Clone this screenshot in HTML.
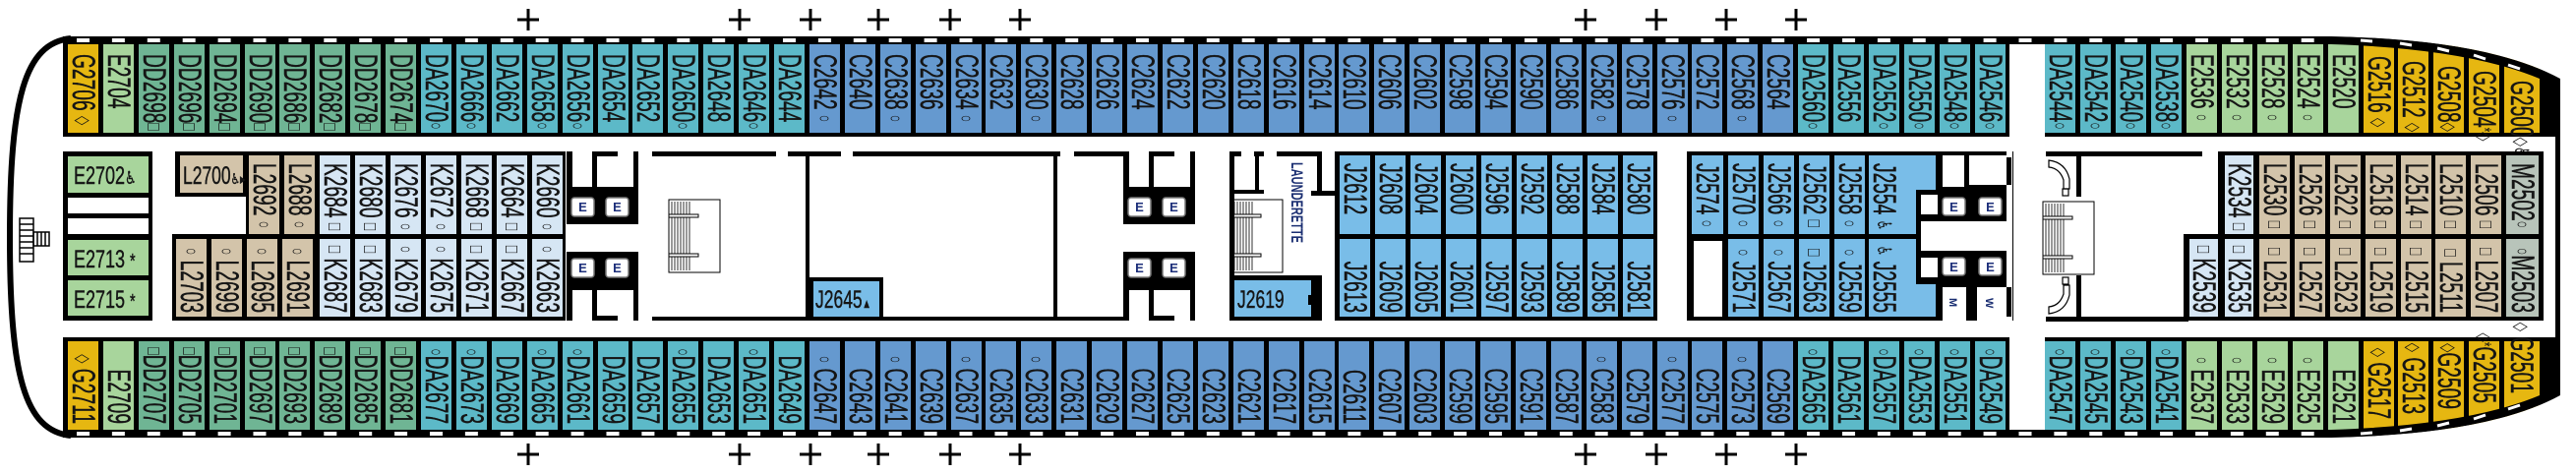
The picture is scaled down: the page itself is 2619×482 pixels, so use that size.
<!DOCTYPE html>
<html><head><meta charset="utf-8"><style>
html,body{margin:0;padding:0;background:#fff;width:2619px;height:482px;overflow:hidden}
svg{display:block}
.v{font-family:"Liberation Sans","DejaVu Sans",sans-serif;font-size:32px;fill:#151515;stroke:#151515;stroke-width:0.5}
.v tspan[font-size="16"]{font-size:20px;stroke-width:0}
.b{text-anchor:end}
.h{font-family:"Liberation Sans","DejaVu Sans",sans-serif;font-size:25px;fill:#151515;stroke:#151515;stroke-width:0.4}
.g{fill:#E6B711}.e{fill:#A8D59C}.dd{fill:#6FB594}.da{fill:#5CB9C8}.c{fill:#6599CF}.j{fill:#79BDE8}.k{fill:#D6E6F4}.l{fill:#D3C4AA}.m{fill:#B8C4BA}
.eb{fill:#fff;stroke:#777;stroke-width:1.5}
.et{font-family:"Liberation Sans",sans-serif;font-size:13px;font-weight:bold;fill:#1d2f7a;text-anchor:middle}
</style></head><body>
<svg width="2619" height="482" viewBox="0 0 2619 482" xmlns="http://www.w3.org/2000/svg">
<defs>
<pattern id="win" x="69" y="0" width="35.9" height="482" patternUnits="userSpaceOnUse">
<rect x="9" y="39" width="13" height="4" fill="#fff"/><rect x="9" y="439" width="13" height="4" fill="#fff"/>
</pattern>
<g id="stair">
<rect x="0" y="0" width="52" height="74" fill="#fff" stroke="#000" stroke-width="1"/>
<path d="M3 2v70M6 2v70M9 2v70M12 2v70M15 2v70M18 2v70M21 2v70" stroke="#000" stroke-width="0.8"/>
<rect x="0" y="15" width="30" height="3" fill="#fff" stroke="#000" stroke-width="1"/>
<rect x="0" y="55" width="30" height="3" fill="#fff" stroke="#000" stroke-width="1"/>
</g>
<g id="elev">
<rect x="0" y="0" width="6" height="42" fill="#000"/>
<rect x="26" y="0" width="5" height="38" fill="#000"/>
<rect x="30" y="0" width="22" height="5" fill="#000"/>
<rect x="68" y="0" width="5" height="38" fill="#000"/>
<rect x="0" y="36" width="73" height="5" fill="#000"/>
<rect x="0" y="40" width="73" height="34" fill="#000"/>
<rect x="5" y="47" width="23" height="19" rx="3" class="eb"/><text x="16.5" y="61" class="et">E</text>
<rect x="40" y="47" width="23" height="19" rx="3" class="eb"/><text x="51.5" y="61" class="et">E</text>
<rect x="0" y="102" width="73" height="34" fill="#000"/>
<rect x="5" y="109" width="23" height="19" rx="3" class="eb"/><text x="16.5" y="123" class="et">E</text>
<rect x="40" y="109" width="23" height="19" rx="3" class="eb"/><text x="51.5" y="123" class="et">E</text>
<rect x="0" y="136" width="73" height="5" fill="#000"/>
<rect x="0" y="136" width="6" height="36" fill="#000"/>
<rect x="26" y="136" width="5" height="36" fill="#000"/>
<rect x="68" y="136" width="5" height="36" fill="#000"/>
<rect x="30" y="167" width="22" height="5" fill="#000"/>
</g>
</defs>

<!-- plus signs -->
<g stroke="#000" stroke-width="3">
<path d="M526 20h22M537 9v22M741 20h22M752 9v22M813 20h22M824 9v22M882 20h22M893 9v22M955 20h22M966 9v22M1026 20h22M1037 9v22M1601 20h22M1612 9v22M1673 20h22M1684 9v22M1744 20h22M1755 9v22M1815 20h22M1826 9v22"/>
<path d="M526 462h22M537 451v22M741 462h22M752 451v22M813 462h22M824 451v22M882 462h22M893 451v22M955 462h22M966 451v22M1026 462h22M1037 451v22M1601 462h22M1612 451v22M1673 462h22M1684 451v22M1744 462h22M1755 451v22M1815 462h22M1826 451v22"/>
</g>

<!-- stern -->
<path d="M72 39 C25 44 10 100 10 241 C10 382 25 438 72 443" fill="none" stroke="#000" stroke-width="6"/>
<g fill="none" stroke="#000" stroke-width="1.5">
<rect x="20" y="222" width="14" height="44"/><path d="M20 228h14M20 234h14M20 240h14M20 246h14M20 252h14M20 258h14"/>
<rect x="34" y="236" width="16" height="14"/><path d="M38 236v14M42 236v14M46 236v14"/>
</g>

<!-- top/bottom black bands -->
<rect x="64" y="37" width="2306" height="102" fill="#000"/>
<rect x="64" y="343" width="2306" height="102" fill="#000"/>
<path d="M2370 37 Q2530 40 2603 80 L2603 139 L2370 139Z" fill="#000"/>
<path d="M2370 445 Q2530 442 2603 402 L2603 343 L2370 343Z" fill="#000"/>
<rect x="64" y="37" width="2306" height="8" fill="url(#win)"/>
<rect x="64" y="437" width="2306" height="8" fill="url(#win)"/>
<rect x="2043" y="45" width="36" height="94" fill="#fff"/>
<rect x="2043" y="343" width="36" height="94" fill="#fff"/>
<rect x="2598" y="80" width="5" height="322" fill="#000"/>

<!-- TOP ROW -->
<g>
<rect class="g" x="69" y="45" width="31" height="90"/><rect class="e" x="105" y="45" width="31" height="90"/>
<rect class="dd" x="141" y="45" width="31" height="90"/><rect class="dd" x="177" y="45" width="31" height="90"/><rect class="dd" x="213" y="45" width="31" height="90"/><rect class="dd" x="249" y="45" width="31" height="90"/><rect class="dd" x="284" y="45" width="31" height="90"/><rect class="dd" x="320" y="45" width="31" height="90"/><rect class="dd" x="356" y="45" width="31" height="90"/><rect class="dd" x="392" y="45" width="31" height="90"/>
<rect class="da" x="428" y="45" width="31" height="90"/><rect class="da" x="464" y="45" width="31" height="90"/><rect class="da" x="500" y="45" width="31" height="90"/><rect class="da" x="536" y="45" width="31" height="90"/><rect class="da" x="572" y="45" width="31" height="90"/><rect class="da" x="608" y="45" width="31" height="90"/><rect class="da" x="643" y="45" width="31" height="90"/><rect class="da" x="679" y="45" width="31" height="90"/><rect class="da" x="715" y="45" width="31" height="90"/><rect class="da" x="751" y="45" width="31" height="90"/><rect class="da" x="787" y="45" width="31" height="90"/>
<rect class="c" x="823" y="45" width="31" height="90"/><rect class="c" x="859" y="45" width="31" height="90"/><rect class="c" x="895" y="45" width="31" height="90"/><rect class="c" x="931" y="45" width="31" height="90"/><rect class="c" x="967" y="45" width="31" height="90"/><rect class="c" x="1002" y="45" width="31" height="90"/><rect class="c" x="1038" y="45" width="31" height="90"/><rect class="c" x="1074" y="45" width="31" height="90"/><rect class="c" x="1110" y="45" width="31" height="90"/><rect class="c" x="1146" y="45" width="31" height="90"/><rect class="c" x="1182" y="45" width="31" height="90"/><rect class="c" x="1218" y="45" width="31" height="90"/><rect class="c" x="1254" y="45" width="31" height="90"/><rect class="c" x="1290" y="45" width="31" height="90"/><rect class="c" x="1326" y="45" width="31" height="90"/><rect class="c" x="1361" y="45" width="31" height="90"/><rect class="c" x="1397" y="45" width="31" height="90"/><rect class="c" x="1433" y="45" width="31" height="90"/><rect class="c" x="1469" y="45" width="31" height="90"/><rect class="c" x="1505" y="45" width="31" height="90"/><rect class="c" x="1541" y="45" width="31" height="90"/><rect class="c" x="1577" y="45" width="31" height="90"/><rect class="c" x="1613" y="45" width="31" height="90"/><rect class="c" x="1649" y="45" width="31" height="90"/><rect class="c" x="1685" y="45" width="31" height="90"/><rect class="c" x="1720" y="45" width="31" height="90"/><rect class="c" x="1756" y="45" width="31" height="90"/><rect class="c" x="1792" y="45" width="31" height="90"/>
<rect class="da" x="1828" y="45" width="31" height="90"/><rect class="da" x="1864" y="45" width="31" height="90"/><rect class="da" x="1900" y="45" width="31" height="90"/><rect class="da" x="1936" y="45" width="31" height="90"/><rect class="da" x="1972" y="45" width="31" height="90"/><rect class="da" x="2008" y="45" width="31" height="90"/>
<rect class="da" x="2079" y="45" width="31" height="90"/><rect class="da" x="2115" y="45" width="31" height="90"/><rect class="da" x="2151" y="45" width="31" height="90"/><rect class="da" x="2187" y="45" width="31" height="90"/>
<rect class="e" x="2223" y="45" width="31" height="90"/><rect class="e" x="2259" y="45" width="31" height="90"/><rect class="e" x="2295" y="45" width="31" height="90"/><rect class="e" x="2331" y="45" width="31" height="90"/><rect class="e" x="2367" y="45" width="31" height="90"/>
<rect class="g" x="2403" y="45" width="31" height="90"/><rect class="g" x="2438" y="45" width="31" height="90"/><rect class="g" x="2474" y="45" width="31" height="90"/><rect class="g" x="2510" y="45" width="31" height="90"/><rect class="g" x="2546" y="45" width="36" height="90"/>
</g>

<!-- BOTTOM ROW -->
<g>
<rect class="g" x="69" y="347" width="31" height="90"/><rect class="e" x="105" y="347" width="31" height="90"/>
<rect class="dd" x="141" y="347" width="31" height="90"/><rect class="dd" x="177" y="347" width="31" height="90"/><rect class="dd" x="213" y="347" width="31" height="90"/><rect class="dd" x="249" y="347" width="31" height="90"/><rect class="dd" x="284" y="347" width="31" height="90"/><rect class="dd" x="320" y="347" width="31" height="90"/><rect class="dd" x="356" y="347" width="31" height="90"/><rect class="dd" x="392" y="347" width="31" height="90"/>
<rect class="da" x="428" y="347" width="31" height="90"/><rect class="da" x="464" y="347" width="31" height="90"/><rect class="da" x="500" y="347" width="31" height="90"/><rect class="da" x="536" y="347" width="31" height="90"/><rect class="da" x="572" y="347" width="31" height="90"/><rect class="da" x="608" y="347" width="31" height="90"/><rect class="da" x="643" y="347" width="31" height="90"/><rect class="da" x="679" y="347" width="31" height="90"/><rect class="da" x="715" y="347" width="31" height="90"/><rect class="da" x="751" y="347" width="31" height="90"/><rect class="da" x="787" y="347" width="31" height="90"/>
<rect class="c" x="823" y="347" width="31" height="90"/><rect class="c" x="859" y="347" width="31" height="90"/><rect class="c" x="895" y="347" width="31" height="90"/><rect class="c" x="931" y="347" width="31" height="90"/><rect class="c" x="967" y="347" width="31" height="90"/><rect class="c" x="1002" y="347" width="31" height="90"/><rect class="c" x="1038" y="347" width="31" height="90"/><rect class="c" x="1074" y="347" width="31" height="90"/><rect class="c" x="1110" y="347" width="31" height="90"/><rect class="c" x="1146" y="347" width="31" height="90"/><rect class="c" x="1182" y="347" width="31" height="90"/><rect class="c" x="1218" y="347" width="31" height="90"/><rect class="c" x="1254" y="347" width="31" height="90"/><rect class="c" x="1290" y="347" width="31" height="90"/><rect class="c" x="1326" y="347" width="31" height="90"/><rect class="c" x="1361" y="347" width="31" height="90"/><rect class="c" x="1397" y="347" width="31" height="90"/><rect class="c" x="1433" y="347" width="31" height="90"/><rect class="c" x="1469" y="347" width="31" height="90"/><rect class="c" x="1505" y="347" width="31" height="90"/><rect class="c" x="1541" y="347" width="31" height="90"/><rect class="c" x="1577" y="347" width="31" height="90"/><rect class="c" x="1613" y="347" width="31" height="90"/><rect class="c" x="1649" y="347" width="31" height="90"/><rect class="c" x="1685" y="347" width="31" height="90"/><rect class="c" x="1720" y="347" width="31" height="90"/><rect class="c" x="1756" y="347" width="31" height="90"/><rect class="c" x="1792" y="347" width="31" height="90"/>
<rect class="da" x="1828" y="347" width="31" height="90"/><rect class="da" x="1864" y="347" width="31" height="90"/><rect class="da" x="1900" y="347" width="31" height="90"/><rect class="da" x="1936" y="347" width="31" height="90"/><rect class="da" x="1972" y="347" width="31" height="90"/><rect class="da" x="2008" y="347" width="31" height="90"/>
<rect class="da" x="2079" y="347" width="31" height="90"/><rect class="da" x="2115" y="347" width="31" height="90"/><rect class="da" x="2151" y="347" width="31" height="90"/><rect class="da" x="2187" y="347" width="31" height="90"/>
<rect class="e" x="2223" y="347" width="31" height="90"/><rect class="e" x="2259" y="347" width="31" height="90"/><rect class="e" x="2295" y="347" width="31" height="90"/><rect class="e" x="2331" y="347" width="31" height="90"/><rect class="e" x="2367" y="347" width="31" height="90"/>
<rect class="g" x="2403" y="347" width="31" height="90"/><rect class="g" x="2438" y="347" width="31" height="90"/><rect class="g" x="2474" y="347" width="31" height="90"/><rect class="g" x="2510" y="347" width="31" height="90"/><rect class="g" x="2546" y="347" width="36" height="90"/>
</g>

<!-- bow curve cut -->
<path d="M2370 37 Q2530 40 2603 80 L2603 90 Q2530 50 2370 45Z" fill="#000"/>
<path d="M2370 37 Q2530 40 2603 80 L2619 80 L2619 0 L2370 0Z" fill="#fff"/>
<path d="M2370 445 Q2530 442 2603 402 L2603 392 Q2530 432 2370 437Z" fill="#000"/>
<path d="M2370 445 Q2530 442 2603 402 L2619 402 L2619 482 L2370 482Z" fill="#fff"/>
<path d="M2400 41 L2412 42 M2440 44 L2452 46 M2478 49 L2490 52 M2515 56 L2527 60 M2550 66 L2562 70" stroke="#fff" stroke-width="3"/>
<path d="M2400 441 L2412 440 M2440 438 L2452 436 M2478 433 L2490 430 M2515 426 L2527 422 M2550 416 L2562 412" stroke="#fff" stroke-width="3"/>

<!-- top labels -->
<g class="v">
<text transform="translate(74,55) rotate(90) scale(.6,1)">G2706 <tspan font-size="16" dy="-4">◇</tspan></text>
<text transform="translate(110,55) rotate(90) scale(.6,1)">E2704</text>
<text transform="translate(146,55) rotate(90) scale(.6,1)">DD2698<tspan font-size="16" dy="-4">□</tspan></text>
<text transform="translate(182,55) rotate(90) scale(.6,1)">DD2696<tspan font-size="16" dy="-4">□</tspan></text>
<text transform="translate(218,55) rotate(90) scale(.6,1)">DD2694<tspan font-size="16" dy="-4">□</tspan></text>
<text transform="translate(254,55) rotate(90) scale(.6,1)">DD2690<tspan font-size="16" dy="-4">□</tspan></text>
<text transform="translate(289,55) rotate(90) scale(.6,1)">DD2686<tspan font-size="16" dy="-4">□</tspan></text>
<text transform="translate(325,55) rotate(90) scale(.6,1)">DD2682<tspan font-size="16" dy="-4">□</tspan></text>
<text transform="translate(361,55) rotate(90) scale(.6,1)">DD2678<tspan font-size="16" dy="-4">□</tspan></text>
<text transform="translate(397,55) rotate(90) scale(.6,1)">DD2674<tspan font-size="16" dy="-4">□</tspan></text>
<text transform="translate(433,55) rotate(90) scale(.6,1)">DA2670<tspan font-size="16" dy="-4">○</tspan></text>
<text transform="translate(469,55) rotate(90) scale(.6,1)">DA2666<tspan font-size="16" dy="-4">○</tspan></text>
<text transform="translate(505,55) rotate(90) scale(.6,1)">DA2662</text>
<text transform="translate(541,55) rotate(90) scale(.6,1)">DA2658<tspan font-size="16" dy="-4">○</tspan></text>
<text transform="translate(577,55) rotate(90) scale(.6,1)">DA2656<tspan font-size="16" dy="-4">○</tspan></text>
<text transform="translate(613,55) rotate(90) scale(.6,1)">DA2654</text>
<text transform="translate(648,55) rotate(90) scale(.6,1)">DA2652</text>
<text transform="translate(684,55) rotate(90) scale(.6,1)">DA2650<tspan font-size="16" dy="-4">○</tspan></text>
<text transform="translate(720,55) rotate(90) scale(.6,1)">DA2648</text>
<text transform="translate(756,55) rotate(90) scale(.6,1)">DA2646<tspan font-size="16" dy="-4">○</tspan></text>
<text transform="translate(792,55) rotate(90) scale(.6,1)">DA2644</text>
<text transform="translate(828,55) rotate(90) scale(.6,1)">C2642   <tspan font-size="16" dy="-4">○</tspan></text>
<text transform="translate(864,55) rotate(90) scale(.6,1)">C2640</text>
<text transform="translate(900,55) rotate(90) scale(.6,1)">C2638   <tspan font-size="16" dy="-4">○</tspan></text>
<text transform="translate(936,55) rotate(90) scale(.6,1)">C2636</text>
<text transform="translate(972,55) rotate(90) scale(.6,1)">C2634   <tspan font-size="16" dy="-4">○</tspan></text>
<text transform="translate(1007,55) rotate(90) scale(.6,1)">C2632</text>
<text transform="translate(1043,55) rotate(90) scale(.6,1)">C2630   <tspan font-size="16" dy="-4">○</tspan></text>
<text transform="translate(1079,55) rotate(90) scale(.6,1)">C2628</text>
<text transform="translate(1115,55) rotate(90) scale(.6,1)">C2626</text>
<text transform="translate(1151,55) rotate(90) scale(.6,1)">C2624</text>
<text transform="translate(1187,55) rotate(90) scale(.6,1)">C2622</text>
<text transform="translate(1223,55) rotate(90) scale(.6,1)">C2620</text>
<text transform="translate(1259,55) rotate(90) scale(.6,1)">C2618</text>
<text transform="translate(1295,55) rotate(90) scale(.6,1)">C2616</text>
<text transform="translate(1331,55) rotate(90) scale(.6,1)">C2614</text>
<text transform="translate(1366,55) rotate(90) scale(.6,1)">C2610</text>
<text transform="translate(1402,55) rotate(90) scale(.6,1)">C2606</text>
<text transform="translate(1438,55) rotate(90) scale(.6,1)">C2602</text>
<text transform="translate(1474,55) rotate(90) scale(.6,1)">C2598</text>
<text transform="translate(1510,55) rotate(90) scale(.6,1)">C2594</text>
<text transform="translate(1546,55) rotate(90) scale(.6,1)">C2590</text>
<text transform="translate(1582,55) rotate(90) scale(.6,1)">C2586</text>
<text transform="translate(1618,55) rotate(90) scale(.6,1)">C2582   <tspan font-size="16" dy="-4">○</tspan></text>
<text transform="translate(1654,55) rotate(90) scale(.6,1)">C2578</text>
<text transform="translate(1690,55) rotate(90) scale(.6,1)">C2576   <tspan font-size="16" dy="-4">○</tspan></text>
<text transform="translate(1725,55) rotate(90) scale(.6,1)">C2572</text>
<text transform="translate(1761,55) rotate(90) scale(.6,1)">C2568   <tspan font-size="16" dy="-4">○</tspan></text>
<text transform="translate(1797,55) rotate(90) scale(.6,1)">C2564</text>
<text transform="translate(1833,55) rotate(90) scale(.6,1)">DA2560<tspan font-size="16" dy="-4">○</tspan></text>
<text transform="translate(1869,55) rotate(90) scale(.6,1)">DA2556</text>
<text transform="translate(1905,55) rotate(90) scale(.6,1)">DA2552<tspan font-size="16" dy="-4">○</tspan></text>
<text transform="translate(1941,55) rotate(90) scale(.6,1)">DA2550<tspan font-size="16" dy="-4">○</tspan></text>
<text transform="translate(1977,55) rotate(90) scale(.6,1)">DA2548<tspan font-size="16" dy="-4">○</tspan></text>
<text transform="translate(2013,55) rotate(90) scale(.6,1)">DA2546<tspan font-size="16" dy="-4">○</tspan></text>
<text transform="translate(2084,55) rotate(90) scale(.6,1)">DA2544<tspan font-size="16" dy="-4">○</tspan></text>
<text transform="translate(2120,55) rotate(90) scale(.6,1)">DA2542<tspan font-size="16" dy="-4">○</tspan></text>
<text transform="translate(2156,55) rotate(90) scale(.6,1)">DA2540<tspan font-size="16" dy="-4">○</tspan></text>
<text transform="translate(2192,55) rotate(90) scale(.6,1)">DA2538<tspan font-size="16" dy="-4">○</tspan></text>
<text transform="translate(2228,55) rotate(90) scale(.6,1)">E2536   <tspan font-size="16" dy="-4">○</tspan></text>
<text transform="translate(2264,55) rotate(90) scale(.6,1)">E2532   <tspan font-size="16" dy="-4">○</tspan></text>
<text transform="translate(2300,55) rotate(90) scale(.6,1)">E2528   <tspan font-size="16" dy="-4">○</tspan></text>
<text transform="translate(2336,55) rotate(90) scale(.6,1)">E2524   <tspan font-size="16" dy="-4">○</tspan></text>
<text transform="translate(2372,55) rotate(90) scale(.6,1)">E2520</text>
<text transform="translate(2408,57) rotate(90) scale(.6,1)">G2516 <tspan font-size="16" dy="-4">◇</tspan></text>
<text transform="translate(2443,62) rotate(90) scale(.6,1)">G2512 <tspan font-size="16" dy="-4">◇</tspan></text>
<text transform="translate(2479,67) rotate(90) scale(.6,1)">G2508<tspan font-size="16" dy="-4">◇</tspan></text>
<text transform="translate(2515,72) rotate(90) scale(.6,1)">G2504<tspan font-size="16" dy="-4">*◇</tspan></text>
<text transform="translate(2553,82) rotate(90) scale(.6,1)">G2500<tspan font-size="16" dy="-4">◇♿</tspan></text>
</g>

<!-- bottom labels -->
<g class="v b">
<text transform="translate(74,431) rotate(90) scale(.6,1)"><tspan font-size="16" dy="-4">◇</tspan><tspan dy="4"> G2711</tspan></text>
<text transform="translate(110,431) rotate(90) scale(.6,1)">E2709</text>
<text transform="translate(146,431) rotate(90) scale(.6,1)"><tspan font-size="16" dy="-4">□</tspan><tspan dy="4">DD2707</tspan></text>
<text transform="translate(182,431) rotate(90) scale(.6,1)"><tspan font-size="16" dy="-4">□</tspan><tspan dy="4">DD2705</tspan></text>
<text transform="translate(218,431) rotate(90) scale(.6,1)"><tspan font-size="16" dy="-4">□</tspan><tspan dy="4">DD2701</tspan></text>
<text transform="translate(254,431) rotate(90) scale(.6,1)"><tspan font-size="16" dy="-4">□</tspan><tspan dy="4">DD2697</tspan></text>
<text transform="translate(289,431) rotate(90) scale(.6,1)"><tspan font-size="16" dy="-4">□</tspan><tspan dy="4">DD2693</tspan></text>
<text transform="translate(325,431) rotate(90) scale(.6,1)"><tspan font-size="16" dy="-4">□</tspan><tspan dy="4">DD2689</tspan></text>
<text transform="translate(361,431) rotate(90) scale(.6,1)"><tspan font-size="16" dy="-4">□</tspan><tspan dy="4">DD2685</tspan></text>
<text transform="translate(397,431) rotate(90) scale(.6,1)"><tspan font-size="16" dy="-4">□</tspan><tspan dy="4">DD2681</tspan></text>
<text transform="translate(433,431) rotate(90) scale(.6,1)"><tspan font-size="16" dy="-4">○</tspan><tspan dy="4">DA2677</tspan></text>
<text transform="translate(469,431) rotate(90) scale(.6,1)"><tspan font-size="16" dy="-4">○</tspan><tspan dy="4">DA2673</tspan></text>
<text transform="translate(505,431) rotate(90) scale(.6,1)">DA2669</text>
<text transform="translate(541,431) rotate(90) scale(.6,1)"><tspan font-size="16" dy="-4">○</tspan><tspan dy="4">DA2665</tspan></text>
<text transform="translate(577,431) rotate(90) scale(.6,1)"><tspan font-size="16" dy="-4">○</tspan><tspan dy="4">DA2661</tspan></text>
<text transform="translate(613,431) rotate(90) scale(.6,1)">DA2659</text>
<text transform="translate(648,431) rotate(90) scale(.6,1)">DA2657</text>
<text transform="translate(684,431) rotate(90) scale(.6,1)"><tspan font-size="16" dy="-4">○</tspan><tspan dy="4">DA2655</tspan></text>
<text transform="translate(720,431) rotate(90) scale(.6,1)">DA2653</text>
<text transform="translate(756,431) rotate(90) scale(.6,1)"><tspan font-size="16" dy="-4">○</tspan><tspan dy="4">DA2651</tspan></text>
<text transform="translate(792,431) rotate(90) scale(.6,1)">DA2649</text>
<text transform="translate(828,431) rotate(90) scale(.6,1)"><tspan font-size="16" dy="-4">○</tspan><tspan dy="4">   C2647</tspan></text>
<text transform="translate(864,431) rotate(90) scale(.6,1)">C2643</text>
<text transform="translate(900,431) rotate(90) scale(.6,1)"><tspan font-size="16" dy="-4">○</tspan><tspan dy="4">   C2641</tspan></text>
<text transform="translate(936,431) rotate(90) scale(.6,1)">C2639</text>
<text transform="translate(972,431) rotate(90) scale(.6,1)"><tspan font-size="16" dy="-4">○</tspan><tspan dy="4">   C2637</tspan></text>
<text transform="translate(1007,431) rotate(90) scale(.6,1)">C2635</text>
<text transform="translate(1043,431) rotate(90) scale(.6,1)"><tspan font-size="16" dy="-4">○</tspan><tspan dy="4">   C2633</tspan></text>
<text transform="translate(1079,431) rotate(90) scale(.6,1)">C2631</text>
<text transform="translate(1115,431) rotate(90) scale(.6,1)">C2629</text>
<text transform="translate(1151,431) rotate(90) scale(.6,1)">C2627</text>
<text transform="translate(1187,431) rotate(90) scale(.6,1)">C2625</text>
<text transform="translate(1223,431) rotate(90) scale(.6,1)">C2623</text>
<text transform="translate(1259,431) rotate(90) scale(.6,1)">C2621</text>
<text transform="translate(1295,431) rotate(90) scale(.6,1)">C2617</text>
<text transform="translate(1331,431) rotate(90) scale(.6,1)">C2615</text>
<text transform="translate(1366,431) rotate(90) scale(.6,1)">C2611</text>
<text transform="translate(1402,431) rotate(90) scale(.6,1)">C2607</text>
<text transform="translate(1438,431) rotate(90) scale(.6,1)">C2603</text>
<text transform="translate(1474,431) rotate(90) scale(.6,1)">C2599</text>
<text transform="translate(1510,431) rotate(90) scale(.6,1)">C2595</text>
<text transform="translate(1546,431) rotate(90) scale(.6,1)">C2591</text>
<text transform="translate(1582,431) rotate(90) scale(.6,1)">C2587</text>
<text transform="translate(1618,431) rotate(90) scale(.6,1)"><tspan font-size="16" dy="-4">○</tspan><tspan dy="4">   C2583</tspan></text>
<text transform="translate(1654,431) rotate(90) scale(.6,1)">C2579</text>
<text transform="translate(1690,431) rotate(90) scale(.6,1)"><tspan font-size="16" dy="-4">○</tspan><tspan dy="4">   C2577</tspan></text>
<text transform="translate(1725,431) rotate(90) scale(.6,1)">C2575</text>
<text transform="translate(1761,431) rotate(90) scale(.6,1)"><tspan font-size="16" dy="-4">○</tspan><tspan dy="4">   C2573</tspan></text>
<text transform="translate(1797,431) rotate(90) scale(.6,1)">C2569</text>
<text transform="translate(1833,431) rotate(90) scale(.6,1)"><tspan font-size="16" dy="-4">○</tspan><tspan dy="4">DA2565</tspan></text>
<text transform="translate(1869,431) rotate(90) scale(.6,1)">DA2561</text>
<text transform="translate(1905,431) rotate(90) scale(.6,1)"><tspan font-size="16" dy="-4">○</tspan><tspan dy="4">DA2557</tspan></text>
<text transform="translate(1941,431) rotate(90) scale(.6,1)"><tspan font-size="16" dy="-4">○</tspan><tspan dy="4">DA2553</tspan></text>
<text transform="translate(1977,431) rotate(90) scale(.6,1)"><tspan font-size="16" dy="-4">○</tspan><tspan dy="4">DA2551</tspan></text>
<text transform="translate(2013,431) rotate(90) scale(.6,1)"><tspan font-size="16" dy="-4">○</tspan><tspan dy="4">DA2549</tspan></text>
<text transform="translate(2084,431) rotate(90) scale(.6,1)"><tspan font-size="16" dy="-4">○</tspan><tspan dy="4">DA2547</tspan></text>
<text transform="translate(2120,431) rotate(90) scale(.6,1)"><tspan font-size="16" dy="-4">○</tspan><tspan dy="4">DA2545</tspan></text>
<text transform="translate(2156,431) rotate(90) scale(.6,1)"><tspan font-size="16" dy="-4">○</tspan><tspan dy="4">DA2543</tspan></text>
<text transform="translate(2192,431) rotate(90) scale(.6,1)"><tspan font-size="16" dy="-4">○</tspan><tspan dy="4">DA2541</tspan></text>
<text transform="translate(2228,431) rotate(90) scale(.6,1)"><tspan font-size="16" dy="-4">○</tspan><tspan dy="4">   E2537</tspan></text>
<text transform="translate(2264,431) rotate(90) scale(.6,1)"><tspan font-size="16" dy="-4">○</tspan><tspan dy="4">   E2533</tspan></text>
<text transform="translate(2300,431) rotate(90) scale(.6,1)"><tspan font-size="16" dy="-4">○</tspan><tspan dy="4">   E2529</tspan></text>
<text transform="translate(2336,431) rotate(90) scale(.6,1)"><tspan font-size="16" dy="-4">○</tspan><tspan dy="4">   E2525</tspan></text>
<text transform="translate(2372,431) rotate(90) scale(.6,1)">E2521</text>
<text transform="translate(2408,426) rotate(90) scale(.6,1)"><tspan font-size="16" dy="-4">◇</tspan><tspan dy="4"> G2517</tspan></text>
<text transform="translate(2443,421) rotate(90) scale(.6,1)"><tspan font-size="16" dy="-4">◇</tspan><tspan dy="4"> G2513</tspan></text>
<text transform="translate(2479,416) rotate(90) scale(.6,1)"><tspan font-size="16" dy="-4">◇</tspan><tspan dy="4">G2509</tspan></text>
<text transform="translate(2515,410) rotate(90) scale(.6,1)"><tspan font-size="16" dy="-4">◇*</tspan><tspan dy="4">G2505</tspan></text>
<text transform="translate(2553,400) rotate(90) scale(.6,1)"><tspan font-size="16" dy="-4">◇</tspan><tspan dy="4"> G2501</tspan></text>
</g>

<!-- ===== MIDDLE SECTION ===== -->
<rect x="64" y="154" width="91" height="172" fill="#000"/>
<rect class="e" x="69" y="159" width="82" height="37"/>
<rect x="69" y="201" width="82" height="16" fill="#fff"/>
<rect x="69" y="222" width="82" height="16" fill="#fff"/>
<rect class="e" x="69" y="244" width="82" height="36"/>
<rect class="e" x="69" y="285" width="82" height="36"/>
<text class="h" transform="translate(75,187) scale(.72,1)">E2702<tspan font-size="18">♿</tspan></text>
<text class="h" transform="translate(75,272) scale(.72,1)">E2713 <tspan font-size="20">*</tspan></text>
<text class="h" transform="translate(75,313) scale(.72,1)">E2715 <tspan font-size="20">*</tspan></text>

<rect x="178" y="154" width="74" height="46" fill="#000"/>
<rect class="l" x="183" y="158" width="64" height="38"/>
<text class="h" transform="translate(186,187) scale(.7,1)">L2700<tspan font-size="15">♿▸</tspan></text>

<rect x="250" y="154" width="325" height="89" fill="#000"/>
<rect x="175" y="238" width="400" height="88" fill="#000"/>
<g>
<rect class="l" x="253" y="158" width="31" height="80"/><rect class="l" x="289" y="158" width="31" height="80"/>
<rect class="k" x="325" y="158" width="31" height="80"/><rect class="k" x="361" y="158" width="31" height="80"/><rect class="k" x="397" y="158" width="31" height="80"/><rect class="k" x="433" y="158" width="31" height="80"/><rect class="k" x="469" y="158" width="31" height="80"/><rect class="k" x="505" y="158" width="31" height="80"/><rect class="k" x="541" y="158" width="31" height="80"/>
<rect class="l" x="179" y="243" width="31" height="79"/><rect class="l" x="215" y="243" width="31" height="79"/><rect class="l" x="251" y="243" width="31" height="79"/><rect class="l" x="287" y="243" width="31" height="79"/>
<rect class="k" x="325" y="243" width="31" height="79"/><rect class="k" x="361" y="243" width="31" height="79"/><rect class="k" x="397" y="243" width="31" height="79"/><rect class="k" x="433" y="243" width="31" height="79"/><rect class="k" x="469" y="243" width="31" height="79"/><rect class="k" x="505" y="243" width="31" height="79"/><rect class="k" x="541" y="243" width="31" height="79"/>
</g>
<g class="v">
<text transform="translate(258,166) rotate(90) scale(.6,1)">L2692 <tspan font-size="16" dy="-4">○</tspan></text>
<text transform="translate(294,166) rotate(90) scale(.6,1)">L2688 <tspan font-size="16" dy="-4">○</tspan></text>
<text transform="translate(330,166) rotate(90) scale(.6,1)">K2684 <tspan font-size="16" dy="-4">□</tspan></text>
<text transform="translate(366,166) rotate(90) scale(.6,1)">K2680 <tspan font-size="16" dy="-4">□</tspan></text>
<text transform="translate(402,166) rotate(90) scale(.6,1)">K2676 <tspan font-size="16" dy="-4">○</tspan></text>
<text transform="translate(438,166) rotate(90) scale(.6,1)">K2672 <tspan font-size="16" dy="-4">○</tspan></text>
<text transform="translate(474,166) rotate(90) scale(.6,1)">K2668 <tspan font-size="16" dy="-4">□</tspan></text>
<text transform="translate(510,166) rotate(90) scale(.6,1)">K2664 <tspan font-size="16" dy="-4">□</tspan></text>
<text transform="translate(546,166) rotate(90) scale(.6,1)">K2660 <tspan font-size="16" dy="-4">○</tspan></text>
</g>
<g class="v b">
<text transform="translate(184,318) rotate(90) scale(.6,1)"><tspan font-size="16" dy="-4">○</tspan><tspan dy="4"> L2703</tspan></text>
<text transform="translate(220,318) rotate(90) scale(.6,1)"><tspan font-size="16" dy="-4">○</tspan><tspan dy="4"> L2699</tspan></text>
<text transform="translate(256,318) rotate(90) scale(.6,1)"><tspan font-size="16" dy="-4">○</tspan><tspan dy="4"> L2695</tspan></text>
<text transform="translate(292,318) rotate(90) scale(.6,1)"><tspan font-size="16" dy="-4">○</tspan><tspan dy="4"> L2691</tspan></text>
<text transform="translate(330,318) rotate(90) scale(.6,1)"><tspan font-size="16" dy="-4">□</tspan><tspan dy="4"> K2687</tspan></text>
<text transform="translate(366,318) rotate(90) scale(.6,1)"><tspan font-size="16" dy="-4">□</tspan><tspan dy="4"> K2683</tspan></text>
<text transform="translate(402,318) rotate(90) scale(.6,1)"><tspan font-size="16" dy="-4">○</tspan><tspan dy="4"> K2679</tspan></text>
<text transform="translate(438,318) rotate(90) scale(.6,1)"><tspan font-size="16" dy="-4">○</tspan><tspan dy="4"> K2675</tspan></text>
<text transform="translate(474,318) rotate(90) scale(.6,1)"><tspan font-size="16" dy="-4">□</tspan><tspan dy="4"> K2671</tspan></text>
<text transform="translate(510,318) rotate(90) scale(.6,1)"><tspan font-size="16" dy="-4">□</tspan><tspan dy="4"> K2667</tspan></text>
<text transform="translate(546,318) rotate(90) scale(.6,1)"><tspan font-size="16" dy="-4">○</tspan><tspan dy="4"> K2663</tspan></text>
</g>

<use href="#elev" x="576" y="154"/>
<use href="#elev" x="1142" y="154"/>
<use href="#stair" x="680" y="203"/>
<use href="#stair" x="1252" y="203"/>

<g fill="#000">
<rect x="663" y="154" width="126" height="5"/><rect x="801" y="154" width="54" height="5"/><rect x="867" y="154" width="211" height="5"/><rect x="1092" y="154" width="50" height="5"/>
<rect x="819" y="158" width="4" height="166"/><rect x="1071" y="158" width="4" height="166"/>
<rect x="663" y="322" width="480" height="4"/>
<rect x="823" y="282" width="75" height="44"/>
</g>
<rect class="j" x="827" y="286" width="67" height="36"/>
<text class="h" transform="translate(829,313) scale(.7,1)">J2645<tspan font-size="13">▲</tspan></text>

<g fill="#000">
<rect x="1250" y="154" width="5" height="172"/>
<rect x="1250" y="154" width="12" height="5"/><rect x="1275" y="154" width="10" height="5"/><rect x="1298" y="154" width="46" height="5"/>
<rect x="1276" y="154" width="4" height="42"/><rect x="1250" y="193" width="35" height="4"/>
<rect x="1339" y="154" width="5" height="42"/><rect x="1333" y="194" width="27" height="5"/>
<rect x="1250" y="280" width="94" height="46"/>
</g>
<rect class="j" x="1255" y="285" width="78" height="37"/>
<rect x="1330" y="300" width="14" height="10" fill="#000"/>
<text class="h" transform="translate(1258,313) scale(.7,1)">J2619</text>
<text transform="translate(1313,165) rotate(90)" font-family="Liberation Sans,sans-serif" font-weight="bold" font-size="17" fill="#1b2f72" textLength="82" lengthAdjust="spacingAndGlyphs">LAUNDERETTE</text>

<rect x="1357" y="154" width="328" height="172" fill="#000"/>
<g>
<rect class="j" x="1362" y="158" width="31" height="80"/><rect class="j" x="1398" y="158" width="31" height="80"/><rect class="j" x="1434" y="158" width="31" height="80"/><rect class="j" x="1470" y="158" width="31" height="80"/><rect class="j" x="1506" y="158" width="31" height="80"/><rect class="j" x="1542" y="158" width="31" height="80"/><rect class="j" x="1578" y="158" width="31" height="80"/><rect class="j" x="1614" y="158" width="31" height="80"/><rect class="j" x="1650" y="158" width="31" height="80"/>
<rect class="j" x="1362" y="243" width="31" height="79"/><rect class="j" x="1398" y="243" width="31" height="79"/><rect class="j" x="1434" y="243" width="31" height="79"/><rect class="j" x="1470" y="243" width="31" height="79"/><rect class="j" x="1506" y="243" width="31" height="79"/><rect class="j" x="1542" y="243" width="31" height="79"/><rect class="j" x="1578" y="243" width="31" height="79"/><rect class="j" x="1614" y="243" width="31" height="79"/><rect class="j" x="1650" y="243" width="31" height="79"/>
</g>
<g class="v">
<text transform="translate(1367,166) rotate(90) scale(.6,1)">J2612</text>
<text transform="translate(1403,166) rotate(90) scale(.6,1)">J2608</text>
<text transform="translate(1439,166) rotate(90) scale(.6,1)">J2604</text>
<text transform="translate(1475,166) rotate(90) scale(.6,1)">J2600</text>
<text transform="translate(1511,166) rotate(90) scale(.6,1)">J2596</text>
<text transform="translate(1547,166) rotate(90) scale(.6,1)">J2592</text>
<text transform="translate(1583,166) rotate(90) scale(.6,1)">J2588</text>
<text transform="translate(1619,166) rotate(90) scale(.6,1)">J2584</text>
<text transform="translate(1655,166) rotate(90) scale(.6,1)">J2580</text>
</g>
<g class="v b">
<text transform="translate(1367,318) rotate(90) scale(.6,1)">J2613</text>
<text transform="translate(1403,318) rotate(90) scale(.6,1)">J2609</text>
<text transform="translate(1439,318) rotate(90) scale(.6,1)">J2605</text>
<text transform="translate(1475,318) rotate(90) scale(.6,1)">J2601</text>
<text transform="translate(1511,318) rotate(90) scale(.6,1)">J2597</text>
<text transform="translate(1547,318) rotate(90) scale(.6,1)">J2593</text>
<text transform="translate(1583,318) rotate(90) scale(.6,1)">J2589</text>
<text transform="translate(1619,318) rotate(90) scale(.6,1)">J2585</text>
<text transform="translate(1655,318) rotate(90) scale(.6,1)">J2581</text>
</g>

<rect x="1715" y="154" width="332" height="172" fill="#000"/>
<rect x="1722" y="245" width="29" height="77" fill="#fff"/>
<g>
<rect class="j" x="1720" y="158" width="32" height="80"/>
<rect class="j" x="1757" y="158" width="31" height="80"/><rect class="j" x="1793" y="158" width="31" height="80"/><rect class="j" x="1829" y="158" width="31" height="80"/><rect class="j" x="1865" y="158" width="31" height="80"/>
<rect class="j" x="1757" y="243" width="31" height="79"/><rect class="j" x="1793" y="243" width="31" height="79"/><rect class="j" x="1829" y="243" width="31" height="79"/><rect class="j" x="1865" y="243" width="31" height="79"/>
<path class="j" d="M1900 158H1968V193H1948V238H1900Z"/>
<path class="j" d="M1900 243H1948V289H1968V322H1900Z"/>
</g>
<g fill="#fff">
<rect x="1975" y="158" width="22" height="32"/><rect x="2002" y="158" width="38" height="30"/>
<rect x="1953" y="198" width="17" height="20"/>
<rect x="1953" y="225" width="93" height="30"/>
<rect x="1953" y="262" width="17" height="20"/>
<rect x="1975" y="292" width="24" height="34"/><rect x="2010" y="292" width="30" height="34"/>
<rect x="2040" y="154" width="6" height="172"/>
</g>
<rect x="2040" y="160" width="5" height="28" fill="#000"/><rect x="2040" y="292" width="5" height="30" fill="#000"/>
<rect x="1975" y="201" width="23" height="18" rx="3" class="eb"/><text x="1986.5" y="215" class="et">E</text>
<rect x="2012" y="201" width="23" height="18" rx="3" class="eb"/><text x="2023.5" y="215" class="et">E</text>
<rect x="1975" y="262" width="23" height="18" rx="3" class="eb"/><text x="1986.5" y="276" class="et">E</text>
<rect x="2012" y="262" width="23" height="18" rx="3" class="eb"/><text x="2023.5" y="276" class="et">E</text>
<text transform="translate(1982,303) rotate(90)" font-family="Liberation Sans,sans-serif" font-weight="bold" font-size="11" fill="#1b2f72">M</text>
<text transform="translate(2019,303) rotate(90)" font-family="Liberation Sans,sans-serif" font-weight="bold" font-size="11" fill="#1b2f72">W</text>
<g class="v">
<text transform="translate(1725,166) rotate(90) scale(.6,1)">J2574 <tspan font-size="16" dy="-4">○</tspan></text>
<text transform="translate(1762,166) rotate(90) scale(.6,1)">J2570 <tspan font-size="16" dy="-4">○</tspan></text>
<text transform="translate(1798,166) rotate(90) scale(.6,1)">J2566 <tspan font-size="16" dy="-4">○</tspan></text>
<text transform="translate(1834,166) rotate(90) scale(.6,1)">J2562 <tspan font-size="16" dy="-4">□</tspan></text>
<text transform="translate(1870,166) rotate(90) scale(.6,1)">J2558 <tspan font-size="16" dy="-4">○</tspan></text>
<text transform="translate(1905,166) rotate(90) scale(.6,1)">J2554 <tspan font-size="16" dy="-4">♿</tspan></text>
</g>
<g class="v b">
<text transform="translate(1762,318) rotate(90) scale(.6,1)"><tspan font-size="16" dy="-4">○</tspan><tspan dy="4"> J2571</tspan></text>
<text transform="translate(1798,318) rotate(90) scale(.6,1)"><tspan font-size="16" dy="-4">○</tspan><tspan dy="4"> J2567</tspan></text>
<text transform="translate(1834,318) rotate(90) scale(.6,1)"><tspan font-size="16" dy="-4">□</tspan><tspan dy="4"> J2563</tspan></text>
<text transform="translate(1870,318) rotate(90) scale(.6,1)"><tspan font-size="16" dy="-4">○</tspan><tspan dy="4"> J2559</tspan></text>
<text transform="translate(1905,318) rotate(90) scale(.6,1)"><tspan font-size="16" dy="-4">♿</tspan><tspan dy="4"> J2555</tspan></text>
</g>

<g fill="#000">
<rect x="2080" y="154" width="159" height="5"/>
<rect x="2111" y="158" width="5" height="42"/><rect x="2111" y="280" width="5" height="44"/>
<rect x="2080" y="322" width="145" height="5"/>
<rect x="2220" y="238" width="42" height="5"/><rect x="2220" y="238" width="5" height="88"/>
</g>
<use href="#stair" x="2077" y="205"/>
<g fill="none" stroke="#000" stroke-width="1.2">
<path d="M2083 163 Q2100 165 2104 182 L2104 192 L2098 192 L2098 183 Q2094 171 2083 170Z"/>
<rect x="2097" y="192" width="6" height="7"/>
<path d="M2083 319 Q2100 317 2104 300 L2104 290 L2098 290 L2098 299 Q2094 311 2083 312Z"/>
<rect x="2097" y="282" width="6" height="7"/>
</g>

<rect x="2255" y="154" width="331" height="172" fill="#000"/>
<rect x="2220" y="238" width="40" height="88" fill="#000"/>
<g>
<rect class="k" x="2262" y="158" width="29" height="80"/>
<rect class="l" x="2297" y="158" width="31" height="80"/><rect class="l" x="2333" y="158" width="31" height="80"/><rect class="l" x="2369" y="158" width="31" height="80"/><rect class="l" x="2405" y="158" width="31" height="80"/><rect class="l" x="2441" y="158" width="31" height="80"/><rect class="l" x="2476" y="158" width="31" height="80"/><rect class="l" x="2512" y="158" width="31" height="80"/>
<rect class="m" x="2548" y="158" width="33" height="80"/>
<rect class="k" x="2226" y="243" width="29" height="79"/><rect class="k" x="2262" y="243" width="29" height="79"/>
<rect class="l" x="2297" y="243" width="31" height="79"/><rect class="l" x="2333" y="243" width="31" height="79"/><rect class="l" x="2369" y="243" width="31" height="79"/><rect class="l" x="2405" y="243" width="31" height="79"/><rect class="l" x="2441" y="243" width="31" height="79"/><rect class="l" x="2476" y="243" width="31" height="79"/><rect class="l" x="2512" y="243" width="31" height="79"/>
<rect class="m" x="2548" y="243" width="33" height="79"/>
</g>
<g class="v">
<text transform="translate(2266,166) rotate(90) scale(.6,1)">K2534 <tspan font-size="16" dy="-4">□</tspan></text>
<text transform="translate(2302,166) rotate(90) scale(.6,1)">L2530 <tspan font-size="16" dy="-4">□</tspan></text>
<text transform="translate(2338,166) rotate(90) scale(.6,1)">L2526 <tspan font-size="16" dy="-4">□</tspan></text>
<text transform="translate(2374,166) rotate(90) scale(.6,1)">L2522 <tspan font-size="16" dy="-4">□</tspan></text>
<text transform="translate(2410,166) rotate(90) scale(.6,1)">L2518 <tspan font-size="16" dy="-4">□</tspan></text>
<text transform="translate(2446,166) rotate(90) scale(.6,1)">L2514 <tspan font-size="16" dy="-4">□</tspan></text>
<text transform="translate(2481,166) rotate(90) scale(.6,1)">L2510 <tspan font-size="16" dy="-4">□</tspan></text>
<text transform="translate(2517,166) rotate(90) scale(.6,1)">L2506 <tspan font-size="16" dy="-4">□</tspan></text>
<text transform="translate(2554,166) rotate(90) scale(.6,1)">M2502<tspan font-size="16" dy="-4">○</tspan></text>
</g>
<g class="v b">
<text transform="translate(2230,318) rotate(90) scale(.6,1)"><tspan font-size="16" dy="-4">□</tspan><tspan dy="4"> K2539</tspan></text>
<text transform="translate(2266,318) rotate(90) scale(.6,1)"><tspan font-size="16" dy="-4">□</tspan><tspan dy="4"> K2535</tspan></text>
<text transform="translate(2302,318) rotate(90) scale(.6,1)"><tspan font-size="16" dy="-4">□</tspan><tspan dy="4"> L2531</tspan></text>
<text transform="translate(2338,318) rotate(90) scale(.6,1)"><tspan font-size="16" dy="-4">□</tspan><tspan dy="4"> L2527</tspan></text>
<text transform="translate(2374,318) rotate(90) scale(.6,1)"><tspan font-size="16" dy="-4">□</tspan><tspan dy="4"> L2523</tspan></text>
<text transform="translate(2410,318) rotate(90) scale(.6,1)"><tspan font-size="16" dy="-4">□</tspan><tspan dy="4"> L2519</tspan></text>
<text transform="translate(2446,318) rotate(90) scale(.6,1)"><tspan font-size="16" dy="-4">□</tspan><tspan dy="4"> L2515</tspan></text>
<text transform="translate(2481,318) rotate(90) scale(.6,1)"><tspan font-size="16" dy="-4">□</tspan><tspan dy="4"> L2511</tspan></text>
<text transform="translate(2517,318) rotate(90) scale(.6,1)"><tspan font-size="16" dy="-4">□</tspan><tspan dy="4"> L2507</tspan></text>
<text transform="translate(2554,318) rotate(90) scale(.6,1)"><tspan font-size="16" dy="-4">○</tspan><tspan dy="4">M2503</tspan></text>
</g>
</svg>
</body></html>
